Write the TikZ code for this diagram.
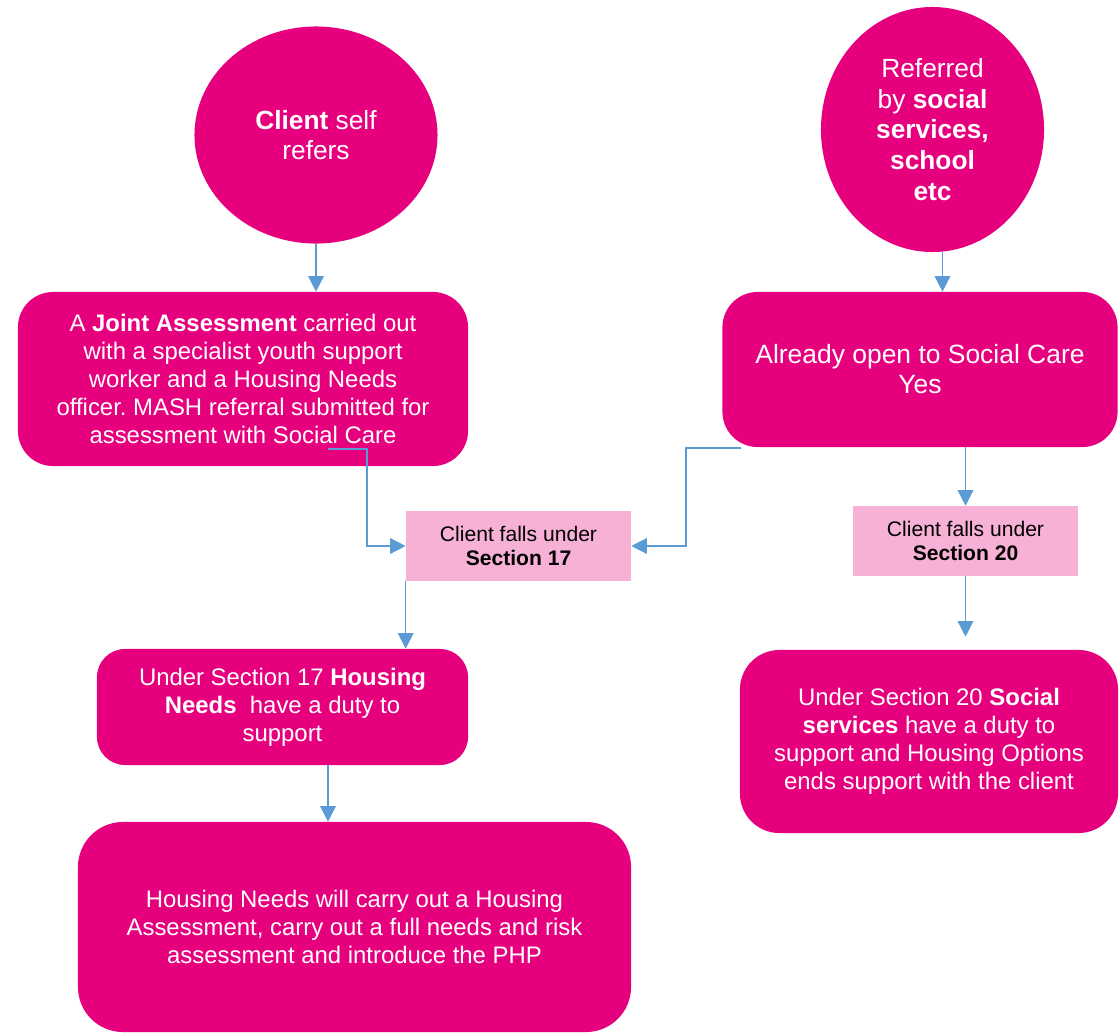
\documentclass[tikz,border=0pt]{standalone}
\usepackage{fontspec}
\setmainfont{Liberation Sans}
\frenchspacing
\usetikzlibrary{arrows.meta,shapes.geometric}
\definecolor{magentabox}{HTML}{E6007E}
\definecolor{pinkbox}{HTML}{F7B1D7}
\definecolor{linkblue}{HTML}{5B9BD5}

\begin{document}
\begin{tikzpicture}[
    x=0.025cm, y=-0.025cm,
    box/.style={rectangle, fill=magentabox, rounded corners=25pt, inner sep=0pt, align=center, text=white, font=\fontsize{17}{19.8}\selectfont},
    circ/.style={ellipse, fill=magentabox, inner sep=0pt, align=center, text=white, font=\fontsize{18.7}{21.8}\selectfont},
    sect/.style={rectangle, fill=pinkbox, inner sep=0pt, align=center, text=black, minimum width=5.625cm, minimum height=1.75cm, font=\fontsize{15}{17}\selectfont},
    arrow/.style={-{Triangle[width=11pt,length=11pt]}, draw=linkblue, line width=1pt}
]
    \useasboundingbox (0,0) rectangle (1120,1033);

    % Starting points
    \node[circ, minimum width=6.075cm, minimum height=5.425cm] (self) at (316,135) {\textbf{Client} self\\refers};
    \node[circ, minimum width=5.575cm, minimum height=6.125cm] (referred) at (932.5,129.5) {Referred\\by \textbf{social}\\\textbf{services,}\\\textbf{school}\\\textbf{etc}};

    % Joint assessment
    \node[box, minimum width=11.25cm, minimum height=4.35cm] (joint) at (243,379) {A \textbf{Joint Assessment} carried out\\with a specialist youth support\\worker and a Housing Needs\\officer. MASH referral submitted for\\assessment with Social Care};

    % Already open
    \node[box, minimum width=9.875cm, minimum height=3.875cm, font=\fontsize{18.8}{21.3}\selectfont] (open) at (920,369.5) {Already open to Social Care\\Yes};

    % Sections
    \node[sect] (sec17) at (518.5,546) {Client falls under\\\textbf{Section 17}};
    \node[sect] (sec20) at (965.5,541) {Client falls under\\\textbf{Section 20}};

    % Duties
    \node[box, rounded corners=20pt, minimum width=9.275cm, minimum height=2.9cm] (duty17) at (282.5,707) {Under Section 17 \textbf{Housing}\\\textbf{Needs}\ \ have a duty to\\support};
    \node[box, rounded corners=28pt, minimum width=9.45cm, minimum height=4.575cm] (duty20) at (929,741.5) {Under Section 20 \textbf{Social}\\\textbf{services} have a duty to\\support and Housing Options\\ends support with the client};

    % Housing assessment
    \node[box, rounded corners=32pt, minimum width=13.825cm, minimum height=5.25cm] (housing) at (354.5,927) {Housing Needs will carry out a Housing\\Assessment, carry out a full needs and risk\\assessment and introduce the PHP};

    % Arrows
    \coordinate (jointout) at (328,449);
    \coordinate (openout) at (741,448);
    \draw[arrow] (self.south) -- (self.south |- joint.north);
    \draw[arrow] ([xshift=0.25cm]referred.south) -- ([xshift=0.25cm]referred.south |- open.north);
    \draw[arrow] (jointout) -- ++(39,0) |- (sec17.west);
    \draw[arrow] (openout) -- ++(-55,0) |- (sec17.east);
    \draw[arrow] (sec20.north |- open.south) -- (sec20.north);
    \draw[arrow, shorten >=0.325cm] (sec20.south) -- (sec20.south |- duty20.north);
    \draw[arrow] (sec17.south west) -- (sec17.south west |- duty17.north);
    \draw[arrow] ([xshift=1.1375cm]duty17.south) -- ([xshift=1.1375cm]duty17.south |- housing.north);

\end{tikzpicture}
\end{document}
